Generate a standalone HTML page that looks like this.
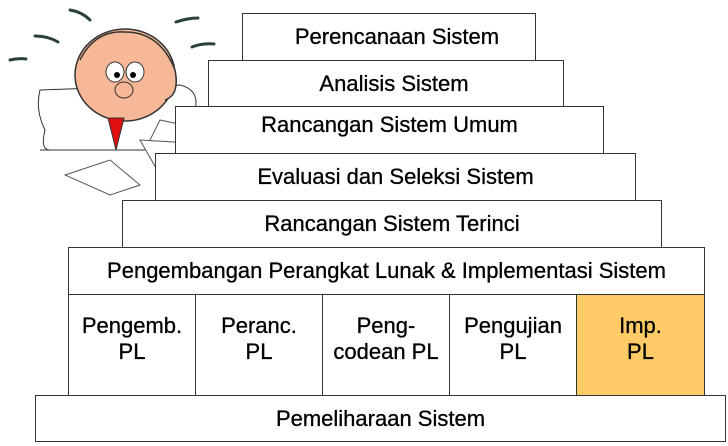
<!DOCTYPE html>
<html><head><style>
body{margin:0;width:728px;height:446px;background:#fff;position:relative;overflow:hidden;font-family:"Liberation Sans",Arial,sans-serif;}
.b{position:absolute;box-sizing:border-box;border:1px solid #333;background:#fff;display:flex;align-items:center;justify-content:center;font-size:22px;color:#000;text-align:center;line-height:26px;letter-spacing:0px;-webkit-text-stroke:0.3px #000}
</style></head><body>
<svg style="position:absolute;left:0;top:0" width="260" height="200">
<g fill="none" stroke="#2a4040" stroke-width="3" stroke-linecap="round">
<path d="M70 10 Q82 12 90 20"/><path d="M35 36 Q48 36 58 42"/><path d="M10 60 Q18 58 26 59"/><path d="M176 22 Q188 18 198 18"/><path d="M192 47 Q202 43 214 44"/>
</g>
<path d="M40 90 Q35 110 45 130 Q40 150 50 150 L200 150 Q210 130 195 110 Q200 90 180 85 Z" fill="#fff" stroke="#333"/>
<ellipse cx="125" cy="75" rx="50" ry="46" fill="#f6b896" stroke="#333" stroke-width="1.5"/>
<path d="M80 60 Q95 30 125 32 Q160 32 175 70 Q180 95 165 100" fill="#f6b896" stroke="#333" stroke-width="1.5"/>
<ellipse cx="115" cy="72" rx="9" ry="10" fill="#fff" stroke="#333"/><ellipse cx="135" cy="72" rx="9" ry="10" fill="#fff" stroke="#333"/>
<circle cx="117" cy="75" r="3" fill="#000"/><circle cx="133" cy="75" r="3" fill="#000"/>
<ellipse cx="124" cy="90" rx="9" ry="8" fill="#f6b896" stroke="#333"/>
<path d="M108 118 L116 150 L124 118 Z" fill="#e01010" stroke="#333"/>
<path d="M40 150 L215 150" stroke="#333"/>
<path d="M160 120 L255 140 L230 160 L145 150 Z" fill="#fff" stroke="#555"/>
<path d="M140 140 L225 145 L245 165 L160 175 Z" fill="#fff" stroke="#555"/>
<path d="M65 175 L110 160 L140 185 L110 195 Z" fill="#fff" stroke="#555"/>
</svg>
<div class="b" style="left:242px;top:13px;width:294px;height:48px;padding-left:16px">Perencanaan Sistem</div>
<div class="b" style="left:208px;top:60px;width:356px;height:47px;padding-left:16px">Analisis Sistem</div>
<div class="b" style="left:175px;top:106px;width:429px;height:48px;align-items:flex-start;padding-top:5px">Rancangan Sistem Umum</div>
<div class="b" style="left:155px;top:153px;width:481px;height:48px">Evaluasi dan Seleksi Sistem</div>
<div class="b" style="left:122px;top:200px;width:540px;height:48px">Rancangan Sistem Terinci</div>
<div class="b" style="left:68px;top:247px;width:637px;height:48px">Pengembangan Perangkat Lunak &amp; Implementasi Sistem</div>
<div class="b" style="left:68px;top:294px;width:128px;height:102px;align-items:flex-start;padding-top:18px">Pengemb.<br>PL</div>
<div class="b" style="left:195px;top:294px;width:128px;height:102px;align-items:flex-start;padding-top:18px">Peranc.<br>PL</div>
<div class="b" style="left:322px;top:294px;width:128px;height:102px;align-items:flex-start;padding-top:18px">Peng-<br>codean PL</div>
<div class="b" style="left:449px;top:294px;width:128px;height:102px;align-items:flex-start;padding-top:18px">Pengujian<br>PL</div>
<div class="b" style="left:576px;top:294px;width:129px;height:102px;align-items:flex-start;padding-top:18px;background:#fecb66">Imp.<br>PL</div>
<div class="b" style="left:35px;top:395px;width:691px;height:47px">Pemeliharaan Sistem</div>
</body></html>
